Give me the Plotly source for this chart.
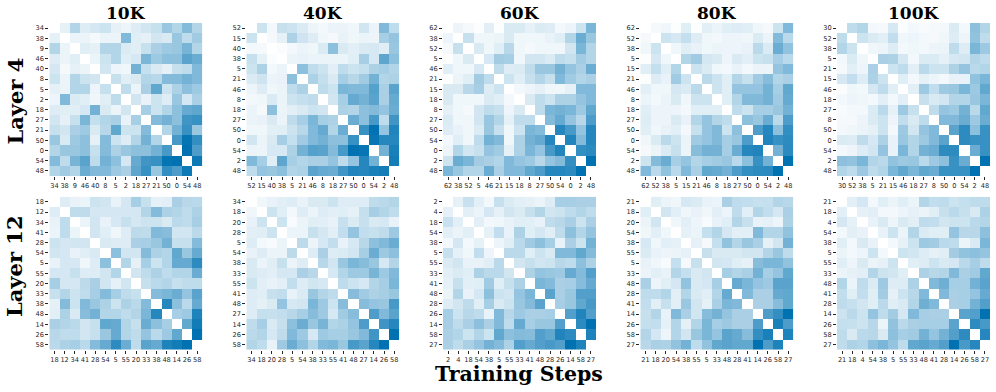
import plotly.graph_objects as go

steps = ["10K", "40K", "60K", "80K", "100K"]
layers = ["Layer 4", "Layer 12"]

labels_l4_10k = ["34","38","9","46","40","8","5","2","18","27","21","50","0","54","48"]
upper_l4_10k = [
 [10,30,13,17,20,10,7,13,18,22,40,30,48,30],
 [8,8,4,8,8,50,12,10,18,15,40,25,37],
 [12,10,30,30,14,12,22,33,38,40,53,30],
 [8,20,30,12,16,52,38,45,45,65,58],
 [18,7,6,55,23,15,10,22,25,50],
 [22,12,15,30,28,48,48,55,50],
 [25,8,33,62,20,32,45,38],
 [18,9,20,13,40,17,33],
 [35,20,30,45,60,63],
 [48,55,45,75,78],
 [30,55,78,40],
 [72,98,80],
 [100,70],
 [95],
]
labels_l12_10k = ["18","12","34","41","28","54","5","55","20","33","38","48","14","26","58"]
upper_l12_10k = [
 [13,9,8,20,18,9,17,35,22,10,11,33,28,27],
 [25,25,17,17,17,17,17,30,48,32,30,25,32],
 [8,18,9,16,22,17,20,20,15,27,25,35],
 [18,12,6,13,26,25,50,47,18,18,27],
 [15,13,13,33,35,40,55,22,22,48],
 [45,18,18,48,32,30,62,40,60],
 [30,10,35,20,30,60,60,82],
 [18,25,32,25,30,30,58],
 [22,27,30,22,25,25],
 [48,52,58,42,65],
 [85,45,27,60],
 [35,38,88],
 [62,93],
 [100],
]
labels_l4_40k = ["52","15","40","38","5","21","46","8","18","27","50","0","54","2","48"]
upper_l4_40k = [
 [20,5,22,20,14,7,5,8,8,6,18,8,50,25],
 [4,10,32,19,13,6,4,9,6,8,7,35,42],
 [2,5,8,6,14,45,15,11,15,16,12,40],
 [8,9,8,8,8,8,12,35,16,63,45],
 [45,25,20,11,25,20,23,32,35,30],
 [32,23,15,35,28,37,55,30,32],
 [25,20,52,50,50,67,33,65],
 [18,35,60,55,65,33,60],
 [32,30,45,48,42,58],
 [58,45,72,25,75],
 [78,100,42,87],
 [97,85,85],
 [55,90],
 [92],
]
labels_l12_40k = ["34","18","20","28","5","54","38","33","55","41","48","27","14","26","58"]
upper_l12_40k = [
 [6,9,11,13,9,15,15,20,13,13,13,25,27,30],
 [20,12,5,13,8,13,11,12,10,23,35,30,25],
 [20,3,8,12,11,9,22,14,22,15,16,9],
 [8,8,22,17,11,24,42,24,22,25,38],
 [26,8,16,24,9,16,28,45,50,58],
 [13,33,13,14,18,35,58,38,45],
 [28,18,40,52,47,40,16,30],
 [16,30,38,38,53,38,50],
 [25,20,16,30,35,52],
 [47,37,32,35,40],
 [47,42,40,72],
 [70,50,65],
 [75,85],
 [100],
]
labels_l4_60k = ["62","38","52","5","46","21","15","18","8","27","50","54","0","2","48"]
upper_l4_60k = [
 [7,4,1,11,1,15,15,10,14,13,5,7,20,52],
 [22,6,6,8,15,6,6,6,9,12,30,58,40],
 [15,6,12,28,6,4,6,6,6,18,52,30],
 [16,36,35,6,18,18,14,25,22,36,30],
 [25,13,14,25,40,40,55,42,33,58],
 [20,12,22,30,22,50,37,30,33],
 [5,7,10,6,6,10,50,50],
 [15,25,20,32,32,42,50],
 [25,52,55,52,38,62],
 [48,60,42,28,70],
 [85,72,42,85],
 [87,48,85],
 [80,83],
 [100],
]
labels_l12_60k = ["2","4","18","54","38","5","55","33","41","48","28","26","14","58","27"]
upper_l12_60k = [
 [10,21,11,5,22,14,11,10,8,13,35,35,33,33],
 [11,8,17,10,18,14,22,30,18,20,25,30,25],
 [11,5,6,9,12,11,9,25,28,33,20,33],
 [10,24,9,32,12,17,12,25,45,30,42],
 [7,12,27,37,45,35,9,33,20,55],
 [27,27,12,20,15,50,50,62,48],
 [18,22,18,20,28,25,45,32],
 [32,42,40,38,60,48,68],
 [52,48,33,35,47,60],
 [65,33,40,68,68],
 [35,40,62,72],
 [68,87,68],
 [82,100],
 [88],
]
labels_l4_80k = ["62","52","38","5","15","21","46","8","18","27","50","0","54","2","48"]
upper_l4_80k = [
 [4,6,1,12,1,11,8,12,13,12,6,4,20,50],
 [20,16,23,13,6,5,7,7,6,14,8,48,27],
 [6,12,9,6,8,7,7,9,27,14,58,43],
 [30,37,17,15,7,15,11,20,22,35,27],
 [20,14,6,5,9,5,8,8,42,50],
 [27,20,12,30,22,37,47,30,33],
 [20,12,42,42,42,55,35,62],
 [12,30,50,50,55,37,60],
 [25,20,35,35,40,55],
 [45,40,58,27,70],
 [70,85,45,80],
 [87,78,82],
 [55,83],
 [100],
]
labels_l12_80k = ["21","18","20","54","38","55","5","33","48","28","41","14","26","58","27"]
upper_l12_80k = [
 [12,8,6,16,14,9,8,33,25,24,22,23,30,28],
 [18,11,6,9,6,11,7,25,11,30,24,17,33],
 [6,11,7,3,9,12,30,22,9,10,7,32],
 [10,8,23,30,17,11,11,50,30,30,43],
 [10,4,23,43,30,40,33,10,18,55],
 [22,15,15,15,18,18,30,40,25],
 [18,17,12,10,47,52,52,43],
 [35,30,33,55,35,42,62],
 [60,52,42,38,65,65],
 [50,33,33,60,62],
 [33,33,47,62],
 [70,80,100],
 [90,70],
 [88],
]
labels_l4_100k = ["30","52","38","5","21","15","46","18","27","8","50","0","54","2","48"]
upper_l4_100k = [
 [25,30,5,4,16,2,5,3,4,5,14,5,45,30],
 [20,14,11,24,6,7,5,4,6,13,7,43,25],
 [6,7,13,5,6,5,7,8,25,13,52,38],
 [33,32,17,5,14,14,10,16,18,30,25],
 [20,25,11,27,20,20,32,42,27,30],
 [12,5,10,7,5,9,9,43,52],
 [11,38,24,38,40,52,38,62],
 [22,15,18,30,30,40,52],
 [25,42,38,55,27,62],
 [50,50,58,38,58],
 [65,82,45,78],
 [82,78,78],
 [58,78],
 [100],
]
labels_l12_100k = ["21","18","4","54","38","5","55","33","48","41","28","14","26","58","27"]
upper_l12_100k = [
 [11,17,5,12,8,12,8,30,24,25,20,23,25,25],
 [10,11,5,5,7,10,8,12,22,27,22,15,32],
 [9,15,7,15,11,25,24,18,20,20,27,30],
 [9,20,8,30,14,12,12,42,28,28,45],
 [5,10,20,38,36,27,25,8,15,52],
 [20,18,13,10,12,36,43,45,42],
 [12,13,20,15,17,27,35,25],
 [32,28,30,50,33,37,62],
 [50,57,35,35,55,65],
 [50,33,35,42,60],
 [33,35,55,68],
 [65,68,100],
 [82,72],
 [85],
]

panels = [
    [(labels_l4_10k, upper_l4_10k), (labels_l4_40k, upper_l4_40k), (labels_l4_60k, upper_l4_60k),
     (labels_l4_80k, upper_l4_80k), (labels_l4_100k, upper_l4_100k)],
    [(labels_l12_10k, upper_l12_10k), (labels_l12_40k, upper_l12_40k), (labels_l12_60k, upper_l12_60k),
     (labels_l12_80k, upper_l12_80k), (labels_l12_100k, upper_l12_100k)],
]

W, H = 996, 392
lefts = [49.3, 246.3, 443.0, 640.3, 837.0]
tops = [23.0, 196.7]
layer_centres = [101.0, 266.5]
SIDE_W, SIDE_H = 153.0, 153.0
TEXT = "#262626"
SERIF = "DejaVu Serif"
SANS = "DejaVu Sans"
SCALE = [[0, "#ffffff"], [1, "#0072b2"]]


def square(upper):
    n = len(upper) + 1
    m = [[None] * n for _ in range(n)]
    for i, row in enumerate(upper):
        for k, v in enumerate(row):
            j = i + 1 + k
            m[i][j] = v
            m[j][i] = v
    return m


fig = go.Figure()
ax = 0
for r, row in enumerate(panels):
    for c, (labels, upper) in enumerate(row):
        ax += 1
        name = "" if ax == 1 else str(ax)
        idx = list(range(len(labels)))
        fig.add_trace(go.Heatmap(
            z=square(upper), x=idx, y=idx, zmin=0, zmax=100, colorscale=SCALE,
            showscale=False, hoverongaps=False, xaxis="x" + name, yaxis="y" + name,
        ))
        axis_font = dict(family=SANS, size=6.6, color=TEXT)
        fig.layout["xaxis" + name] = dict(
            domain=[lefts[c] / W, (lefts[c] + SIDE_W) / W], anchor="y" + name,
            tickvals=idx, ticktext=labels, tickangle=0, ticks="outside", ticklen=3, tickwidth=0.8,
            tickcolor=TEXT, tickfont=axis_font, showgrid=False, zeroline=False, showline=False,
            range=[-0.5, len(labels) - 0.5], constrain="domain",
        )
        fig.layout["yaxis" + name] = dict(
            domain=[1 - (tops[r] + SIDE_H) / H, 1 - tops[r] / H], anchor="x" + name,
            tickvals=idx, ticktext=labels, ticks="outside", ticklen=3, tickwidth=0.8,
            tickcolor=TEXT, tickfont=axis_font, showgrid=False, zeroline=False, showline=False,
            range=[len(labels) - 0.5, -0.5],
        )

annotations = []
for c, s in enumerate(steps):
    annotations.append(dict(text=s, x=(lefts[c] + SIDE_W / 2) / W, y=1 - 13 / H, xref="paper", yref="paper",
                            showarrow=False, xanchor="center", yanchor="middle",
                            font=dict(family=SERIF, size=17, color="#000000", weight="bold")))
for r, name in enumerate(layers):
    annotations.append(dict(text=name, x=14.5 / W, y=1 - layer_centres[r] / H, xref="paper", yref="paper",
                            showarrow=False, xanchor="center", yanchor="middle", textangle=-90,
                            font=dict(family=SERIF, size=21, color="#000000", weight="bold")))
annotations.append(dict(text="Training Steps", x=518.5 / W, y=1 - 374 / H, xref="paper", yref="paper",
                        showarrow=False, xanchor="center", yanchor="middle",
                        font=dict(family=SERIF, size=20.5, color="#000000", weight="bold")))

fig.update_layout(width=W, height=H, margin=dict(l=0, r=0, t=0, b=0), paper_bgcolor="white",
                  plot_bgcolor="white", annotations=annotations, showlegend=False)
fig.write_html("out.html", post_script="document.body.style.margin='0';", config={"displayModeBar": False})
